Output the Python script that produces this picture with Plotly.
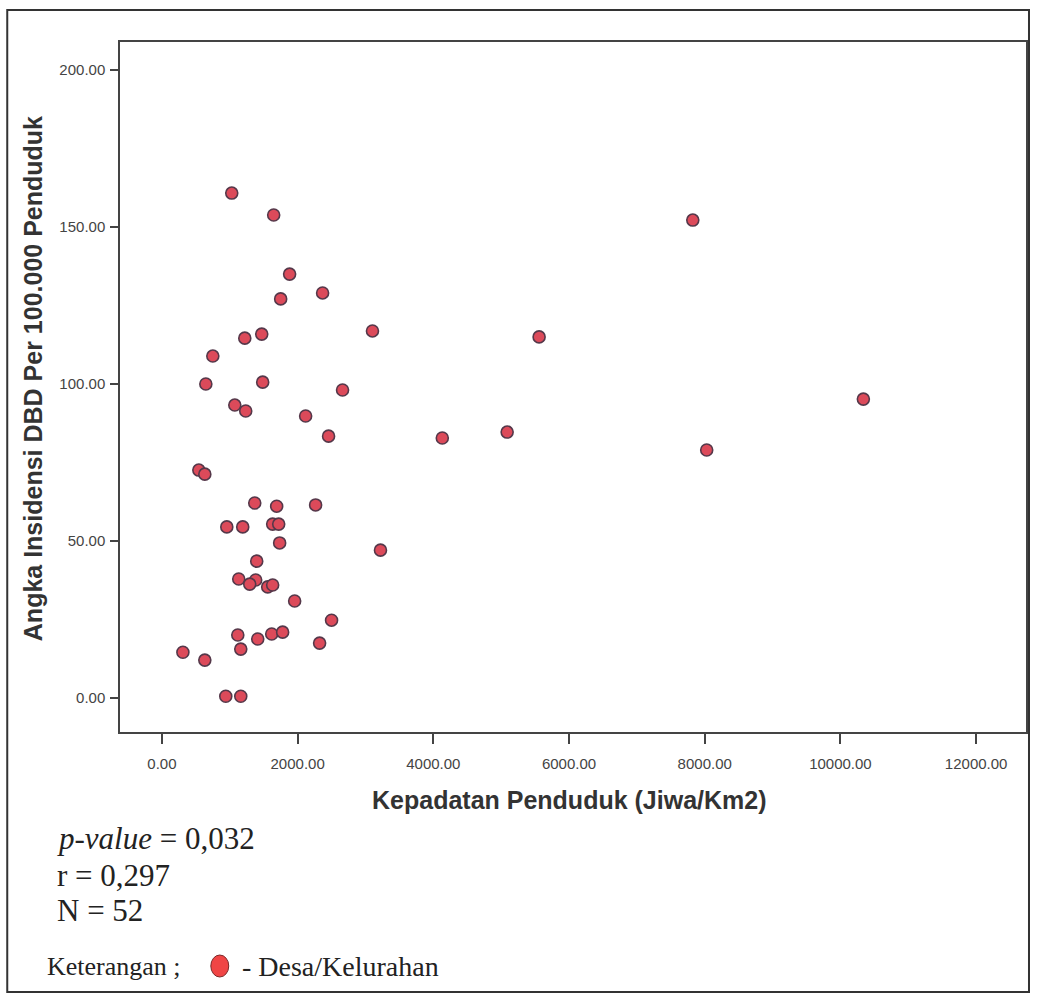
import plotly.graph_objects as go

# Data
kepadatan = [1029, 1647, 7824, 1882, 2368, 1750, 3103, 1471, 1221, 5559,
             750, 647, 1485, 2662, 1074, 1235, 2118, 10338, 2456, 4132,
             5088, 8029, 544, 632, 1368, 1691, 2265, 956, 1191, 1632,
             1721, 1735, 3221, 1397, 1132, 1382, 1294, 1559, 1632, 1956,
             2500, 1118, 1412, 1618, 1779, 2324, 309, 1162, 632, 941, 1162]
insidensi = [160.8, 153.8, 152.2, 135.0, 129.0, 127.1, 116.9, 115.9, 114.6, 115.0,
             108.9, 100.0, 100.6, 98.1, 93.3, 91.4, 89.8, 95.2, 83.4, 82.8,
             84.7, 79.0, 72.6, 71.3, 62.1, 61.1, 61.5, 54.5, 54.5, 55.4,
             55.4, 49.4, 47.1, 43.6, 37.9, 37.6, 36.3, 35.4, 36.0, 30.9,
             24.8, 20.1, 18.8, 20.4, 21.0, 17.5, 14.6, 15.6, 12.1, 0.6, 0.6]
x_ticks = [0, 2000, 4000, 6000, 8000, 10000, 12000]
y_ticks = [0, 50, 100, 150, 200]

W, H = 1038, 998
L, R, T, B = 120, 1028, 42, 732

def px(x):
    return (x - L) / (R - L)

def py(y):
    return (B - y) / (B - T)

fig = go.Figure()
fig.add_trace(go.Scatter(
    x=kepadatan, y=insidensi, mode="markers",
    marker=dict(size=12, color="#dc4a5a", line=dict(color="#55384a", width=1.6)),
    showlegend=False,
))

axis_font = dict(family="Liberation Sans", size=15, color="#444")
title_font = dict(family="Liberation Sans", size=25, color="#333")

fig.update_xaxes(
    range=[-618, 12735], tickvals=x_ticks, tickformat=".2f",
    ticks="outside", ticklen=10, tickcolor="#444", tickwidth=1.5, tickfont=axis_font,
    ticklabelstandoff=7,
    showline=True, linecolor="#444", linewidth=1.5, mirror=True,
    showgrid=False, zeroline=False,
)
fig.update_yaxes(
    range=[-10.8, 208.9], tickvals=y_ticks, tickformat=".2f",
    ticks="outside", ticklen=8, tickcolor="#444", tickwidth=1.5, tickfont=axis_font,
    ticklabelstandoff=2,
    showline=True, linecolor="#444", linewidth=1.5, mirror=True,
    showgrid=False, zeroline=False,
)

# axis titles
fig.add_annotation(text="<b>Kepadatan Penduduk (Jiwa/Km2)</b>", x=px(570), y=py(800),
                   xref="paper", yref="paper", xanchor="center", yanchor="middle",
                   showarrow=False, font=title_font)
fig.add_annotation(text="<b>Angka Insidensi DBD Per 100.000 Penduduk</b>", x=px(33), y=py(379),
                   xref="paper", yref="paper", xanchor="center", yanchor="middle",
                   textangle=-90, showarrow=False, font=title_font)

serif = "Liberation Serif"
ann = [
    dict(text="<i>p-value</i> = 0,032", x=px(55), y=py(838), size=31),
    dict(text="r = 0,297", x=px(55), y=py(875), size=31),
    dict(text="N = 52", x=px(55), y=py(910), size=31),
    dict(text="Keterangan ;", x=px(45), y=py(966), size=26),
    dict(text="- Desa/Kelurahan", x=px(240), y=py(966), size=28),
]
for a in ann:
    fig.add_annotation(text=a["text"], x=a["x"], y=a["y"], xref="paper", yref="paper",
                       xanchor="left", yanchor="middle", showarrow=False,
                       font=dict(family=serif, size=a["size"], color="#222"))

shapes = [
    dict(type="rect", xref="paper", yref="paper", x0=px(7), x1=px(1031), y0=py(992), y1=py(10),
         line=dict(color="#333", width=2), fillcolor="rgba(0,0,0,0)", layer="below"),
    dict(type="circle", xref="paper", yref="paper", x0=px(211), x1=px(229), y0=py(977), y1=py(955),
         line=dict(color="#7a2a2a", width=1), fillcolor="#f04545"),
]

fig.update_layout(
    width=W, height=H,
    margin=dict(l=L, r=W - R, t=T, b=H - B),
    paper_bgcolor="white", plot_bgcolor="white",
    shapes=shapes,
)

fig.write_html("out.html", config={"displayModeBar": False},
               post_script="document.body.style.margin='0px';document.body.style.padding='0px';")
